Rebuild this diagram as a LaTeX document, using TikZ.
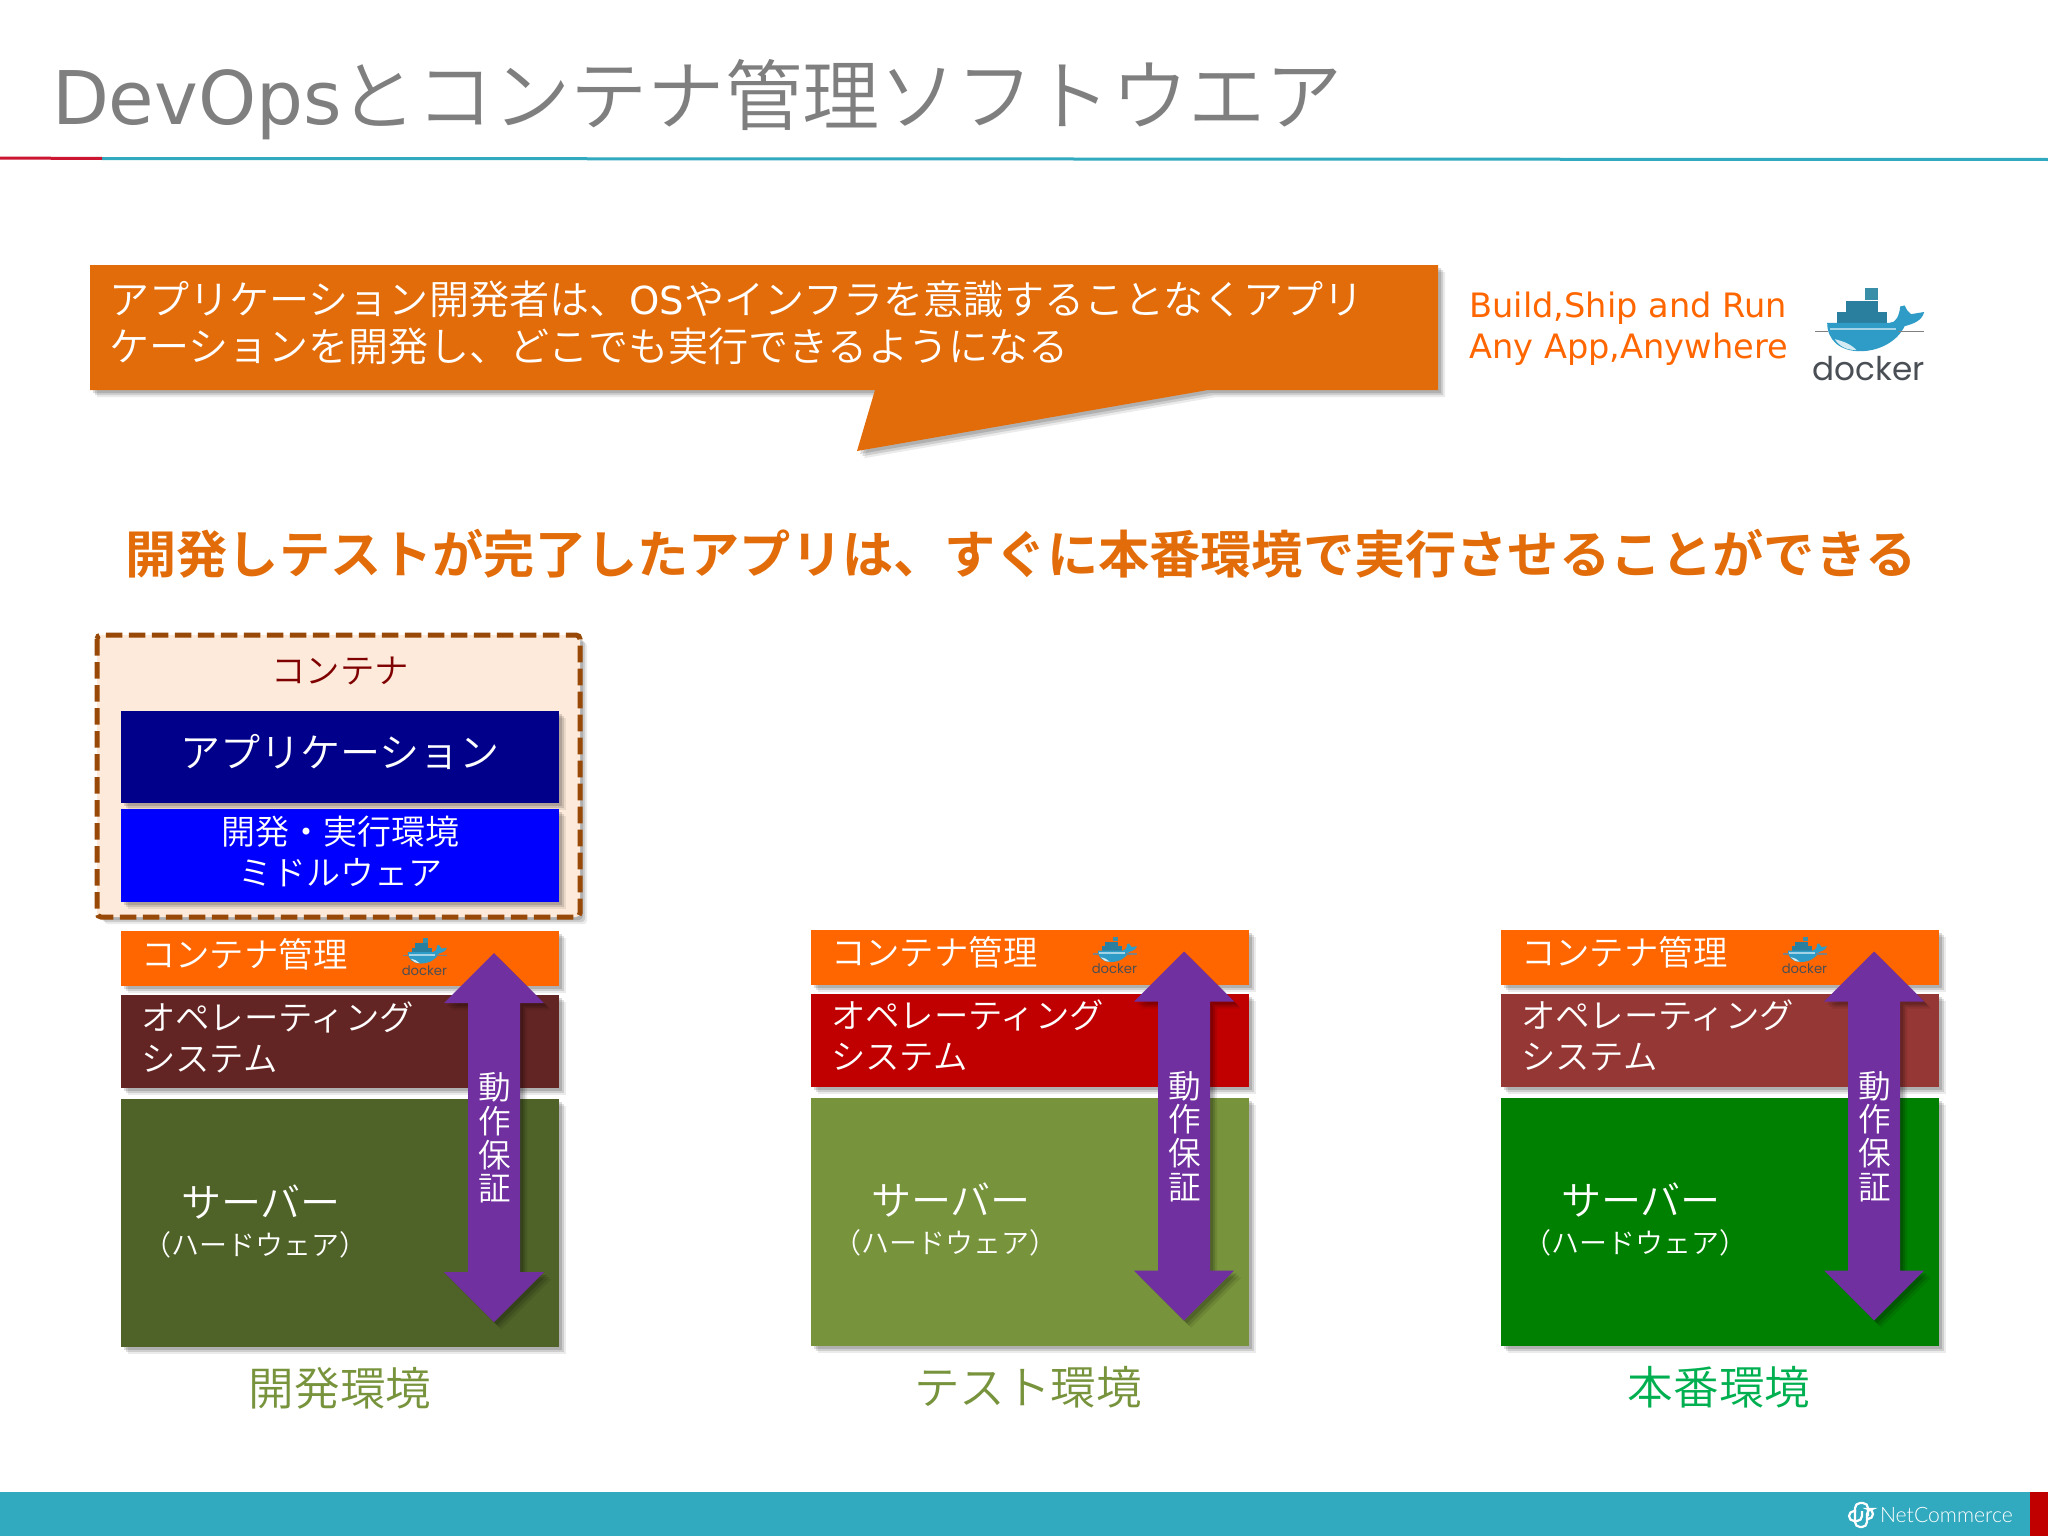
\documentclass[tikz,border=0pt]{standalone}
\usepackage{fontspec}
\setmainfont{DejaVu Sans}
\newfontfamily\jp[UprightFont=* DemiLight,BoldFont=* Bold]{Noto Sans CJK JP}
\newfontfamily\lat{DejaVu Sans}
\newfontfamily\logofont{Poppins}
\newfontfamily\ncfont[UprightFont=* Light]{Lato}
\usetikzlibrary{shadows}
\definecolor{titlegray}{HTML}{7F7F7F}
\definecolor{calloutor}{HTML}{E36C0A}
\definecolor{brightor}{HTML}{FF6600}
\definecolor{teal}{HTML}{31A9BE}
\definecolor{redline}{HTML}{CC1530}
\definecolor{boxfill}{HTML}{FDEADA}
\definecolor{boxdash}{HTML}{984807}
\definecolor{contred}{HTML}{7F0000}
\definecolor{appblue}{HTML}{00008B}
\definecolor{osA}{HTML}{632523}
\definecolor{osB}{HTML}{C00000}
\definecolor{osC}{HTML}{953735}
\definecolor{srvA}{HTML}{4F6228}
\definecolor{srvB}{HTML}{77933C}
\definecolor{srvC}{HTML}{008000}
\definecolor{lblC}{HTML}{00B050}
\definecolor{purplearrow}{HTML}{7030A0}
\definecolor{dockA}{HTML}{2E9CC6}
\definecolor{dockB}{HTML}{2A7F9E}
\definecolor{dockC}{HTML}{3A8FA8}
\definecolor{dockgray}{HTML}{4A4F55}
\tikzset{
  softshadow/.style={drop shadow={shadow xshift=1.5pt,shadow yshift=-1.5pt,fill=black,opacity=.14},
                     drop shadow={shadow xshift=2.6pt,shadow yshift=-2.6pt,fill=black,opacity=.12},
                     drop shadow={shadow xshift=3.6pt,shadow yshift=-3.6pt,fill=black,opacity=.08}},
  layerbox/.style={inner sep=0pt,outer sep=0pt,anchor=north west,softshadow},
  txt/.style={inner sep=0pt,outer sep=0pt,font=\jp},
  wtxt/.style={txt,text=white},
  s17/.style={font=\jp\fontsize{17.2}{20.5}\selectfont},
  s20/.style={font=\jp\fontsize{20.05}{23.5}\selectfont},
}
\newcommand{\dockerlogo}[3]{%
  \begin{scope}[shift={(#1,#2)},scale=#3,transform shape]
    \fill[dockC] (48,0) rectangle (60,11);
    \fill[dockB] (30,12) rectangle (60,22);
    \fill[dockB] (22,22) rectangle (68,32);
    \fill[dockA] (13,32) -- (70,32) .. controls (76,32) and (79,26) .. (80,17) -- (84,16) .. controls (86,20) and (87,22) .. (90,24) -- (102,22) .. controls (100,30) and (92,33) .. (84,35) .. controls (78,48) and (62,58) .. (43,58) .. controls (25,58) and (13,48) .. (13,32) -- cycle;
    \fill[white!80!dockA] (20,47) .. controls (28,49) and (34,51) .. (40,57) .. controls (30,57) and (24,53) .. (20,47) -- cycle;
    \draw[gray,line width=.8pt] (2,40) -- (14,40) (78,40) -- (102,40);
    \draw[white!55!dockA,line width=1pt] (16,38) -- (76,38);
    \node[inner sep=0pt,outer sep=0pt,text=dockgray] (logo#1) at (51,74) {\logofont\fontsize{15}{15}\selectfont docker};
  \end{scope}}
\newcommand{\envcol}[8]{%
  % #1 id, #2 dx, #3 dy, #4 os colour, #5 server colour, #6 label, #7 label colour, #8 label x
  \begin{scope}[shift={(#2,#3)}]
    \node[layerbox,fill=brightor,minimum width=219pt,minimum height=27.5pt] (mgr#1) at (121,931) {};
    \node[wtxt,s17,anchor=west] (mgrt#1) at (141,954) {コンテナ管理};
    \dockerlogo{402}{938}{.44}
    \node[layerbox,fill=#4,minimum width=219pt,minimum height=46.5pt] (os#1) at (121,995) {};
    \node[wtxt,s17,anchor=west,align=left] (ost#1) at (141,1037) {オペレーティング\\システム};
    \node[layerbox,fill=#5,minimum width=219pt,minimum height=124pt] (srv#1) at (121,1099) {};
    \node[wtxt,s20] (srvt#1) at (261,1202) {サーバー};
    \node[wtxt,font=\jp\fontsize{14}{16}\selectfont] (srvs#1) at (255,1244.5) {（ハードウェア）};
    \fill[purplearrow,softshadow] (494,953) -- (544,1003) -- (520,1003) -- (520,1272) -- (544,1272) -- (494,1322) -- (444,1272) -- (468,1272) -- (468,1003) -- (444,1003) -- cycle;
    \node[wtxt,align=center,font=\jp\fontsize{16.3}{16.8}\selectfont] (arr#1) at (495,1138) {動\\作\\保\\証};
    \node[txt,text=#7,font=\jp\fontsize{22.8}{26}\selectfont] (lbl#1) at (#8,1388.5) {#6};
  \end{scope}}
\begin{document}
\begin{tikzpicture}[x=.5pt,y=-.5pt]
\useasboundingbox (0,0) rectangle (2048,1536);
\fill[white] (0,0) rectangle (2048,1536);
% title
\node[txt,anchor=west,text=titlegray] (title) at (52,100) {\lat\fontsize{37}{44}\selectfont DevOps\hspace{-1.5pt}\jp\fontsize{38.6}{44}\selectfont とコンテナ管理ソフトウエア};
\draw[teal,line width=1.5pt] (102,158.5) -- (2048,159.5);
\draw[redline,line width=1.5pt] (0,158) -- (102,158.5);
% callout
\fill[calloutor,softshadow] (90,265) -- (1438,265) -- (1438,390) -- (1208,390) -- (857,451) -- (875,390) -- (90,390) -- cycle;
\node[wtxt,anchor=west,align=left,s20] (callout) at (109,322.5) {アプリケーション開発者は、{\lat\fontsize{19.3}{23.5}\selectfont OS}やインフラを意識することなくアプリ\\ケーションを開発し、どこでも実行できるようになる};
\node[anchor=west,inner sep=0pt,text=brightor,align=left,font=\lat\fontsize{16.8}{20.5}\selectfont] (build) at (1469,328.5) {Build,Ship and Run\\Any App,Anywhere};
\dockerlogo{1813}{288}{1.09}
% heading
\node[txt,text=calloutor,font=\jp\bfseries\fontsize{25.6}{30}\selectfont] (head) at (1021,554) {開発しテストが完了したアプリは、すぐに本番環境で実行させることができる};
% container
\draw[fill=boxfill,draw=boxdash,line width=2.5pt,dash pattern=on 8.3pt off 3.2pt,rounded corners=2pt,softshadow] (97,635) rectangle (580,917);
\node[txt,text=contred,s17] (cont) at (340,671) {コンテナ};
\node[layerbox,fill=appblue,minimum width=219pt,minimum height=46pt] (app) at (121,711) {};
\node[wtxt,s20] (appt) at (340,752) {アプリケーション};
\node[layerbox,fill=blue,minimum width=219pt,minimum height=46.5pt] (mid) at (121,809) {};
\node[wtxt,font=\jp\fontsize{17}{20.5}\selectfont,align=center] (midt) at (340,851.5) {開発・実行環境\\ミドルウェア};
% columns
\envcol{a}{0}{0}{osA}{srvA}{開発環境}{srvB}{340}
\envcol{b}{690}{-1.5}{osB}{srvB}{テスト環境}{srvB}{338}
\envcol{c}{1380}{-1.5}{osC}{srvC}{本番環境}{lblC}{339}
% footer
\fill[teal] (0,1492) rectangle (2030,1536);
\fill[osB] (2030,1492) rectangle (2048,1536);
\node[txt,text=white,anchor=west,font=\ncfont\fontsize{10.6}{14}\selectfont] (nc) at (1880,1515) {NetCommerce};
\draw[white,line width=1.1pt,rounded corners=2.5pt] (1855,1516) -- (1855,1503) -- (1868,1503) -- (1868,1516);
\draw[white,line width=1.1pt,rounded corners=2.5pt] (1856,1511) -- (1849,1511) -- (1849,1521) -- (1862,1521) -- (1862,1511);
\draw[white,line width=1.1pt,rounded corners=2.5pt] (1855,1516) -- (1855,1527) -- (1867,1527) -- (1867,1509) -- (1873,1509) -- (1873,1519) -- (1866,1519);
\end{tikzpicture}
\end{document}
